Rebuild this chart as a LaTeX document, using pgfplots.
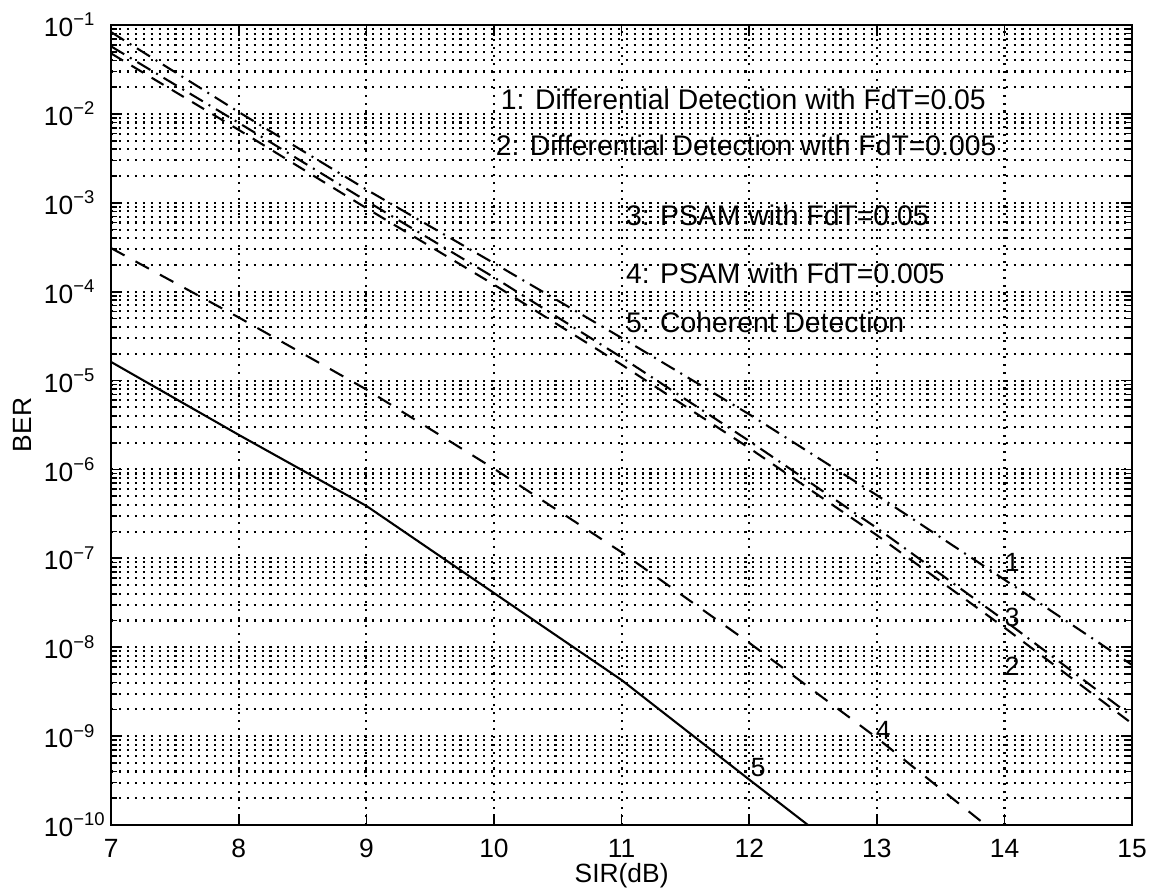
\documentclass[border=0pt]{standalone}
\usepackage{fontspec}
\setmainfont{Liberation Sans}
\usepackage{pgfplots}
\pgfplotsset{compat=1.18}
\begin{document}
\begin{tikzpicture}[font=\fontsize{9.5}{11.4}\selectfont]
\useasboundingbox (-40pt,-24.8pt) rectangle (376.9pt,297pt);
\begin{axis}[
  at={(0,0)}, anchor=south west,
  scale only axis, width=367.6pt, height=288pt,
  xmin=7, xmax=15, ymin=1e-10, ymax=1e-1,
  ymode=log, log basis y=10,
  xtick={7,8,9,10,11,12,13,14,15},
  ytick={1e-10,1e-9,1e-8,1e-7,1e-6,1e-5,1e-4,1e-3,1e-2,1e-1},
  yticklabels={10\textsuperscript{−10},10\textsuperscript{−9},10\textsuperscript{−8},10\textsuperscript{−7},10\textsuperscript{−6},10\textsuperscript{−5},10\textsuperscript{−4},10\textsuperscript{−3},10\textsuperscript{−2},10\textsuperscript{−1}},
  minor ytick={2e-10,3e-10,4e-10,5e-10,6e-10,7e-10,8e-10,9e-10,
    2e-9,3e-9,4e-9,5e-9,6e-9,7e-9,8e-9,9e-9,
    2e-8,3e-8,4e-8,5e-8,6e-8,7e-8,8e-8,9e-8,
    2e-7,3e-7,4e-7,5e-7,6e-7,7e-7,8e-7,9e-7,
    2e-6,3e-6,4e-6,5e-6,6e-6,7e-6,8e-6,9e-6,
    2e-5,3e-5,4e-5,5e-5,6e-5,7e-5,8e-5,9e-5,
    2e-4,3e-4,4e-4,5e-4,6e-4,7e-4,8e-4,9e-4,
    2e-3,3e-3,4e-3,5e-3,6e-3,7e-3,8e-3,9e-3,
    2e-2,3e-2,4e-2,5e-2,6e-2,7e-2,8e-2,9e-2},
  /pgf/number format/assume math mode=true,
  xtick pos=both, ytick pos=both,
  tick align=inside,
  major tick length=4pt, minor tick length=2.2pt,
  tick style={black, line width=0.6pt},
  axis line style={black, line width=0.9pt},
  xmajorgrids=true, ymajorgrids=true, yminorgrids=true,
  major grid style={black, line width=0.75pt, dash pattern=on 0.75pt off 2.1pt},
  minor grid style={black, line width=0.75pt, dash pattern=on 0.75pt off 2.1pt},
  xticklabel style={yshift=-1.5pt},
  yticklabel style={anchor=west, xshift=-27.7pt},
  xlabel={SIR(dB)}, ylabel={BER},
  every axis x label/.style={at={(axis description cs:0.5,0)}, yshift=-18.4pt, anchor=center},
  every axis y label/.style={at={(axis description cs:0,0.5)}, xshift=-32pt, rotate=90, anchor=center},
  clip=true,
]
% 1: Differential Detection FdT=0.05 (dash-dot)
\addplot[black, line width=0.75pt, dash pattern=on 5.5pt off 2.4pt on 0.7pt off 2.4pt] coordinates {
 (7,8.32e-2) (8,1.05e-2) (9,1.41e-3) (10,2.09e-4) (11,3.02e-5) (12,4.17e-6) (13,5.13e-7) (14,5.75e-8) (15,6.31e-9)};
% 2: Differential Detection FdT=0.005 (dashed)
\addplot[black, line width=0.75pt, dash pattern=on 5pt off 3.5pt] coordinates {
 (7,4.79e-2) (8,6.61e-3) (9,8.71e-4) (10,1.20e-4) (11,1.51e-5) (12,1.74e-6) (13,1.82e-7) (14,1.66e-8) (15,1.38e-9)};
% 3: PSAM FdT=0.05 (dash-dot)
\addplot[black, line width=0.75pt, dash pattern=on 5.5pt off 2.4pt on 0.7pt off 2.4pt] coordinates {
 (7,5.75e-2) (8,7.94e-3) (9,1.05e-3) (10,1.45e-4) (11,1.82e-5) (12,2.09e-6) (13,2.19e-7) (14,2.00e-8) (15,1.66e-9)};
% 4: PSAM FdT=0.005 (dashed)
\addplot[black, line width=0.75pt, dash pattern=on 5.5pt off 4.5pt] coordinates {
 (7,3.09e-4) (8,5.13e-5) (9,7.94e-6) (10,1.02e-6) (11,1.17e-7) (12,1.12e-8) (13,9.55e-10) (14,6.76e-11)};
% 5: Coherent Detection (solid)
\addplot[black, line width=0.75pt] coordinates {
 (7,1.62e-5) (8,2.45e-6) (9,3.89e-7) (10,4.07e-8) (11,4.27e-9) (12,3.24e-10) (13,2.51e-11)};

\begin{scope}[font=\fontsize{10.2}{12}\selectfont]
\node[anchor=west, inner sep=0pt] at (axis cs:10.05,1.45e-2) {1: Differential Detection with FdT=0.05};
\node[anchor=west, inner sep=0pt] at (axis cs:10.01,4.47e-3) {2: Differential Detection with FdT=0.005};
\node[anchor=west, inner sep=0pt] at (axis cs:11.03,7.24e-4) {3: PSAM with FdT=0.05};
\node[anchor=west, inner sep=0pt] at (axis cs:11.03,1.62e-4) {4: PSAM with FdT=0.005};
\node[anchor=west, inner sep=0pt] at (axis cs:11.03,4.57e-5) {5: Coherent Detection};
\end{scope}

\node[inner sep=0pt] at (axis cs:14.06,9.1e-8) {1};
\node[inner sep=0pt] at (axis cs:14.06,2.19e-8) {3};
\node[inner sep=0pt] at (axis cs:14.06,6.03e-9) {2};
\node[inner sep=0pt] at (axis cs:13.05,1.17e-9) {4};
\node[inner sep=0pt] at (axis cs:12.07,4.47e-10) {5};
\end{axis}
\end{tikzpicture}
\end{document}
